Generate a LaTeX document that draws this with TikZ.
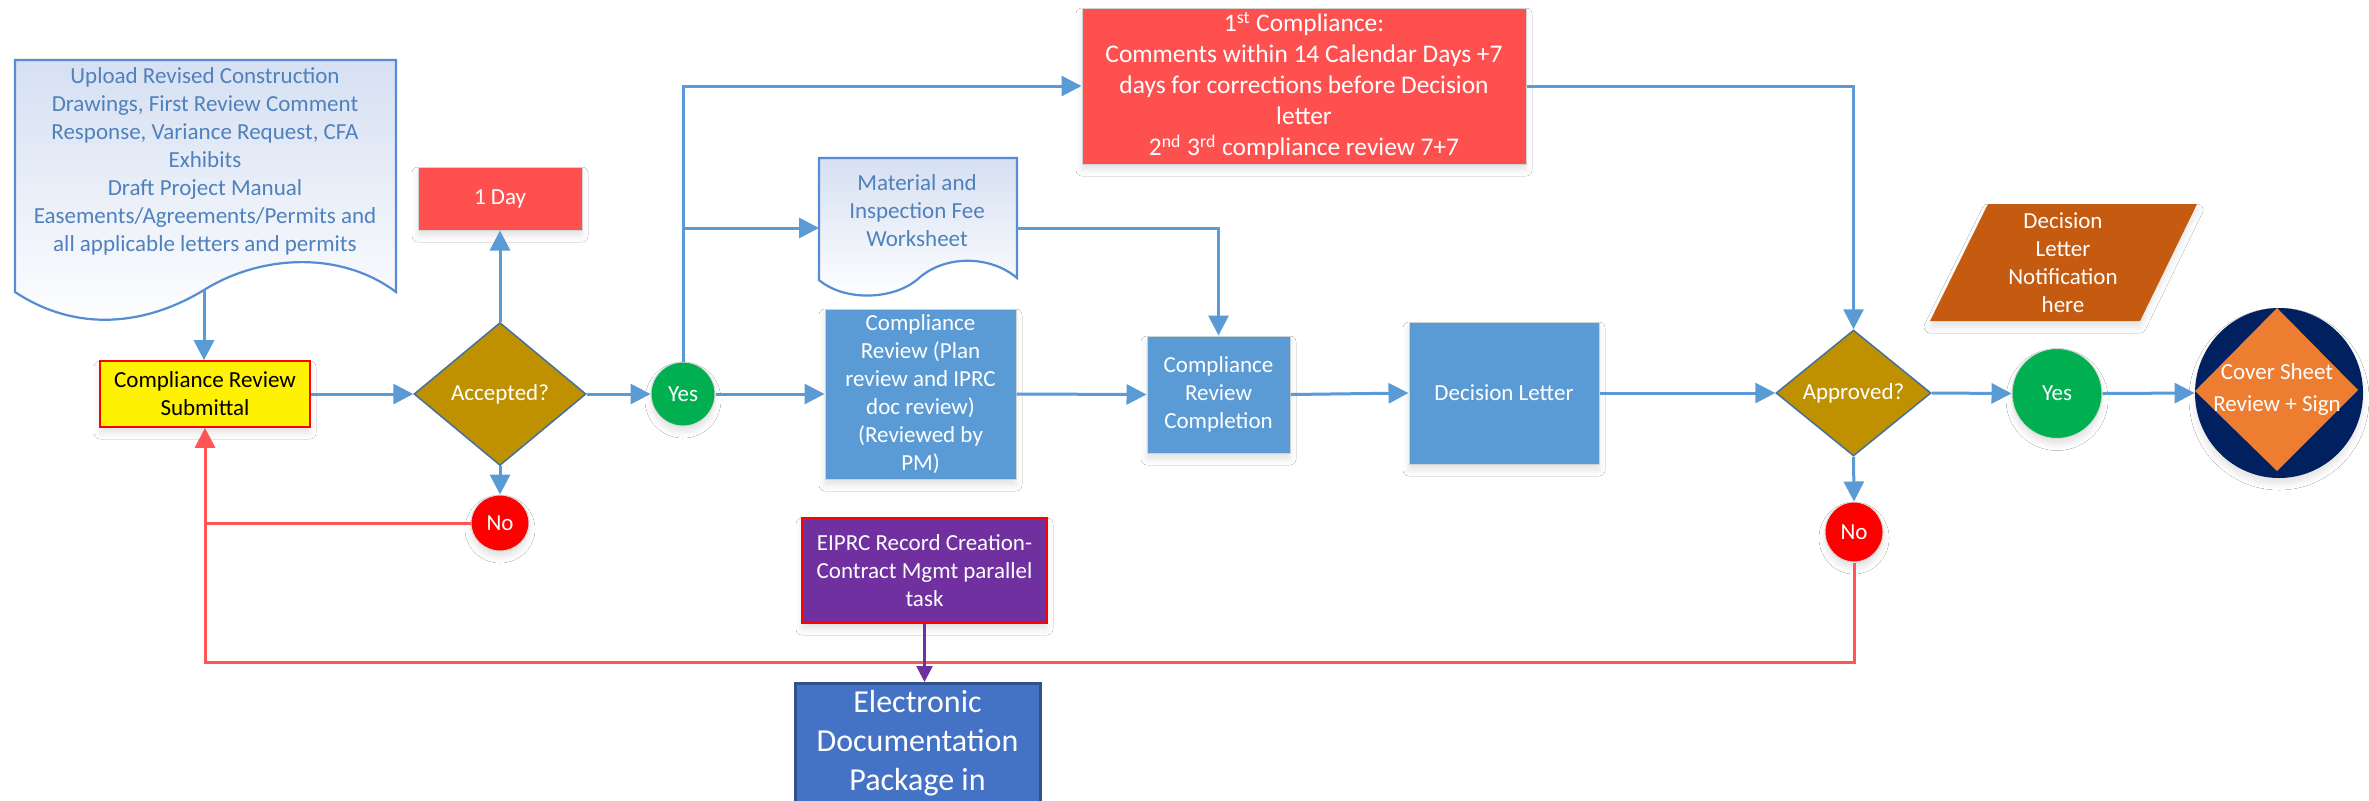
\documentclass[tikz,border=0pt]{standalone}
\usepackage{fontspec}
\setmainfont{Carlito}
\usetikzlibrary{arrows.meta,shapes.geometric,shadows.blur,calc}
\definecolor{cblue}{RGB}{91,155,213}
\definecolor{rline}{RGB}{255,85,85}
\definecolor{boxred}{RGB}{255,80,80}
\definecolor{gold}{RGB}{191,144,0}
\definecolor{dborder}{RGB}{65,113,156}
\definecolor{green1}{RGB}{0,176,80}
\definecolor{purp}{RGB}{112,48,160}
\definecolor{edpblue}{RGB}{68,114,196}
\definecolor{edpborder}{RGB}{47,82,143}
\definecolor{rust}{RGB}{197,90,17}
\definecolor{navy}{RGB}{0,32,96}
\definecolor{orng}{RGB}{237,125,49}
\definecolor{docline}{RGB}{84,141,212}
\definecolor{doctext}{RGB}{79,129,189}
\definecolor{docfill}{RGB}{214,224,242}
\begin{document}
\begin{tikzpicture}[x=0.5pt,y=-0.5pt,
  txt/.style={font=\fontsize{11.5}{14}\selectfont, align=center, inner sep=0pt},
  shd/.style={blur shadow={shadow xshift=0pt, shadow yshift=-3pt, shadow blur radius=3pt, shadow opacity=11}},
  box/.style={txt, rectangle, text=white, draw=gray!35, line width=0.5pt, shd},
  circ/.style={txt, ellipse, text=white, draw=gray!30, line width=0.5pt, shd},
  dia/.style={txt, diamond, text=white, fill=gold, draw=dborder, line width=0.75pt},
  arr/.style={line width=1.5pt, draw=cblue, -{Triangle[length=10pt,width=10pt]}},
  bline/.style={line width=1.5pt, draw=cblue},
  rarr/.style={line width=1.5pt, draw=rline, -{Triangle[length=10pt,width=10pt]}},
  rl/.style={line width=1.5pt, draw=rline},
  parr/.style={line width=1.2pt, draw=purp, -{Triangle[length=8pt,width=8pt]}},
  docshape/.style={draw=docline, line width=1.1pt, top color=docfill, bottom color=white}
]
\useasboundingbox (0,0) rectangle (2369,800);
\clip (0,0) rectangle (2369,800);
\fill[white] (0,0) rectangle (2369,800);

% document shapes
\path[docshape] (15,60) -- (396,60) -- (396,292) .. controls (340,250) and (260,255) .. (204,290) .. controls (150,323) and (80,335) .. (15,292) -- cycle;
\node[txt, text=doctext] (upl) at (205,161) {Upload Revised Construction\\Drawings, First Review Comment\\Response, Variance Request, CFA\\Exhibits\\Draft Project Manual\\Easements/Agreements/Permits and\\all applicable letters and permits};
\coordinate (upbot) at (204,290);

\path[docshape] (819,158) -- (1017,158) -- (1017,278) .. controls (990,255) and (945,255) .. (919,278) .. controls (895,300) and (845,302) .. (819,280) -- cycle;
\node[txt, text=doctext] (mat) at (917,211) {Material and\\Inspection Fee\\Worksheet};
\coordinate (matin) at (819,228);
\coordinate (matout) at (1017,228);

% nodes
\node[box, fill=yellow, draw=red, line width=0.8pt, text=black, minimum width=105pt, minimum height=33pt] (sub) at (205,394) {Compliance Review\\Submittal};
\node[dia, minimum width=86pt, minimum height=71.5pt] (acc) at (500,394) {Accepted?};
\node[box, fill=boxred, minimum width=82pt, minimum height=31.5pt] (day1) at (500,198.5) {1 Day};
\node[circ, fill=red, minimum width=29pt, minimum height=28pt] (no1) at (500,523) {No};
\node[circ, fill=green1, minimum width=32pt, minimum height=32pt] (yes1) at (683,394) {Yes};
\node[box, fill=boxred, minimum width=222pt, minimum height=78pt, font=\fontsize{12.7}{15.5}\selectfont] (c1) at (1304,86) {1\textsuperscript{st} Compliance:\\Comments within 14 Calendar Days +7\\days for corrections before Decision\\letter\\2\textsuperscript{nd} 3\textsuperscript{rd} compliance review 7+7};
\node[box, fill=cblue, minimum width=95.5pt, minimum height=85pt] (cr) at (920.5,394) {Compliance\\Review (Plan\\review and IPRC\\doc review)\\(Reviewed by\\PM)};
\node[box, fill=cblue, minimum width=71.5pt, minimum height=58.5pt] (crc) at (1218.5,394.5) {Compliance\\Review\\Completion};
\node[box, fill=cblue, minimum width=95pt, minimum height=71pt] (dl) at (1504,393) {Decision Letter};
\node[dia, minimum width=77.5pt, minimum height=63pt] (appr) at (1853.5,393) {Approved?};
\node[circ, fill=red, minimum width=29pt, minimum height=30pt] (no2) at (1854,532) {No};
\node[circ, fill=green1, minimum width=45pt, minimum height=45pt] (yes2) at (2057,393.5) {Yes};

% decision letter notification parallelogram
\path[fill=rust, shd] (1988,204) -- (2197,204) -- (2140,321) -- (1930,321) -- cycle;
\node[txt, text=white] (note) at (2063,262.5) {Decision\\Letter\\Notification\\here};

% cover sheet
\node[ellipse, fill=navy, minimum width=84pt, minimum height=85pt, inner sep=0pt, shd] (cov) at (2279,393) {};
\path[fill=orng] (2277,308) -- (2358,390) -- (2277,471) -- (2195,391) -- cycle;
\node[txt, text=white, font=\fontsize{11.5}{16}\selectfont] (covt) at (2277,389) {Cover Sheet\\Review + Sign};

% purple and electronic boxes
\node[box, fill=purp, draw=red, line width=0.8pt, minimum width=122.5pt, minimum height=52.5pt] (eip) at (924.5,570.5) {EIPRC Record Creation-\\Contract Mgmt parallel\\task};
\node[rectangle, fill=edpblue, draw=edpborder, line width=1.5pt, minimum width=122.5pt, minimum height=80pt, anchor=north, inner sep=0pt] (edp) at (917.5,682) {};
\node[txt, text=white, font=\fontsize{16}{19.5}\selectfont] (edpt) at (917.5,743) {Electronic\\Documentation\\Package in};

% connectors
\draw[arr] (upbot) -- (upbot |- sub.north);
\draw[arr] (sub.east) -- (acc.west);
\draw[arr] (acc.north) -- (day1.south);
\draw[arr] (acc.south) -- (no1.north);
\draw[arr] (acc.east) -- (yes1.west);
\draw[arr] (yes1.north) |- (c1.west);
\draw[arr] (yes1.north |- matin) -- (matin);
\draw[arr] (matout) -| (crc.north);
\draw[arr] (yes1.east) -- (cr.west);
\draw[arr] (cr.east) -- (crc.west);
\draw[arr] (crc.east) -- (dl.west);
\draw[arr] (c1.east) -| (appr.north);
\draw[arr] (dl.east) -- (appr.west);
\draw[arr] (appr.south) -- (no2.north);
\draw[arr] (appr.east) -- (yes2.west);
\draw[arr] (yes2.east) -- (cov.west);

\coordinate (loopy) at (0,662);
\draw[rl] (no1.west) -- (no1.west -| sub.south);
\draw[rarr] (no2.south) |- (sub.south |- loopy) -- (sub.south);
\draw[parr] (eip.south) -- (eip.south |- edp.north);
\end{tikzpicture}
\end{document}
